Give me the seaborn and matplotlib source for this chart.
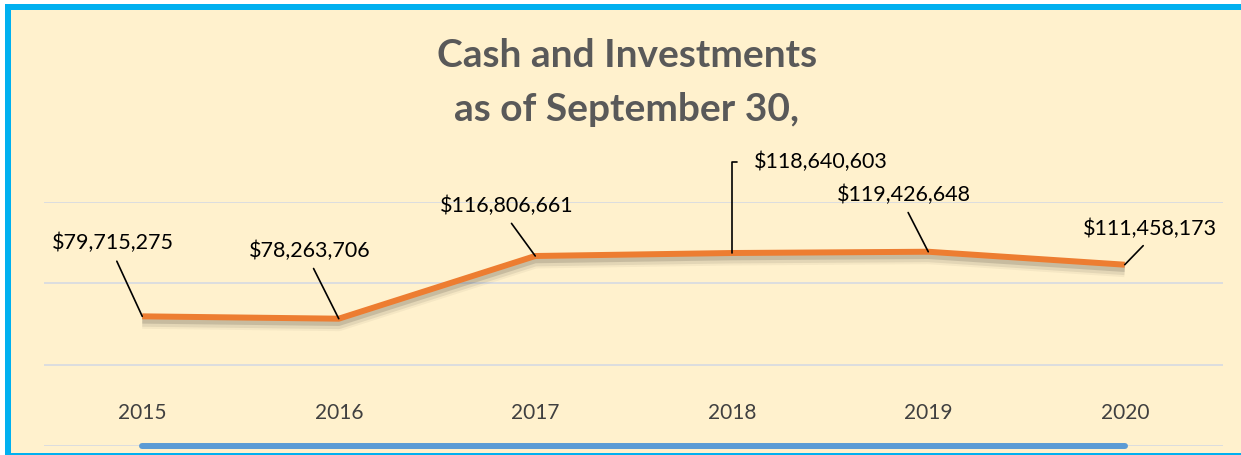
import matplotlib
matplotlib.use("Agg")
import matplotlib.pyplot as plt
import matplotlib.patheffects as pe
from matplotlib.patches import Rectangle
import pandas as pd
import seaborn as sns

# values
years = ["2015", "2016", "2017", "2018", "2019", "2020"]
cash = [79715275, 78263706, 116806661, 118640603, 119426648, 111458173]

W, H = 1241, 455
CREAM = "#FFF1CD"
BORDER = "#00B0F0"
ORANGE = "#ED7D31"

sns.set_style("white", rc={"axes.facecolor": CREAM})
plt.rcParams["font.family"] = ["Lato", "DejaVu Sans"]

df = pd.DataFrame({"pos": range(len(years)), "cash": cash})

fig = plt.figure(figsize=(W / 100, H / 100), dpi=100, facecolor="white")

# panel background + blue frame (left, top, thin bottom)
def frame_rect(x, y, w, h, color, z):
    fig.patches.append(Rectangle((x, y), w, h, transform=fig.transFigure,
                                 facecolor=color, edgecolor="none", zorder=z))

frame_rect(5 / W, 0, 1, (H - 4) / H, CREAM, -3)
frame_rect(5 / W, 0, 6 / W, (H - 4) / H, BORDER, -2)
frame_rect(5 / W, (H - 10) / H, 1, 6 / H, BORDER, -2)
frame_rect(5 / W, 0, 1, 2 / H, BORDER, -2)

ax = fig.add_axes([44 / W, (H - 446) / H, (1223 - 44) / W, (446 - 202) / H])
ax.set_facecolor(CREAM)

# soft drop shadow under the line
shadow = [
    pe.SimpleLineShadow(offset=(0, -4), shadow_color="#000000", alpha=0.04, linewidth=10),
    pe.SimpleLineShadow(offset=(0, -4), shadow_color="#000000", alpha=0.07, linewidth=7),
    pe.SimpleLineShadow(offset=(0, -3), shadow_color="#000000", alpha=0.12, linewidth=4.5),
    pe.Normal(),
]
sns.lineplot(data=df, x="pos", y="cash", color=ORANGE, linewidth=4.3, ax=ax,
             path_effects=shadow, zorder=3, solid_capstyle="butt")

# blue bar along the bottom of the plot
ax.plot([0, len(years) - 1], [0, 0], color="#5B9BD5", linewidth=4.3,
        solid_capstyle="round", clip_on=False, zorder=4)

ax.set_xlim(-0.5, len(years) - 0.5)
ax.set_ylim(0, 150e6)
ax.set_yticks([0, 50e6, 100e6, 150e6])
ax.set_yticklabels([])
ax.yaxis.grid(True, color="#D9DBE0", linewidth=1.3)
ax.xaxis.grid(False)
for s in ax.spines.values():
    s.set_visible(False)
ax.set_xticks(range(len(years)), years)
ax.tick_params(axis="x", length=0, pad=-23.8, labelsize=15, labelcolor="#404040")
ax.tick_params(axis="y", length=0)
for lbl in ax.get_xticklabels():
    lbl.set_va("center")
ax.set_xlabel("")
ax.set_ylabel("")

# data labels with leader lines (offsets in pixels)
offsets = [(-29, 73), (-29, 68), (-29, 50), (89, 91), (-24, 57), (25, 36)]
for i, v in enumerate(cash):
    dx, dy = offsets[i]
    if i == 3:
        arrow = dict(arrowstyle="-", color="black", lw=1.2, shrinkA=10, shrinkB=0,
                     relpos=(0, 0.5), connectionstyle="angle,angleA=0,angleB=90,rad=0")
    else:
        arrow = dict(arrowstyle="-", color="black", lw=1.2, shrinkA=3.5, shrinkB=0,
                     relpos=(0.5, 0))
    ax.annotate(f"${v:,}", xy=(i, v), xytext=(dx, dy), textcoords="offset pixels",
                ha="center", va="center", fontsize=15.5, color="black",
                arrowprops=arrow, annotation_clip=False, zorder=5)

fig.text(627 / W, 1 - 67 / H, "Cash and Investments", ha="center", va="baseline",
         fontsize=28, fontweight="bold", color="#595959")
fig.text(627 / W, 1 - 121 / H, "as of September 30,", ha="center", va="baseline",
         fontsize=28, fontweight="bold", color="#595959")

fig.savefig("out.png", dpi=100, facecolor=fig.get_facecolor())
